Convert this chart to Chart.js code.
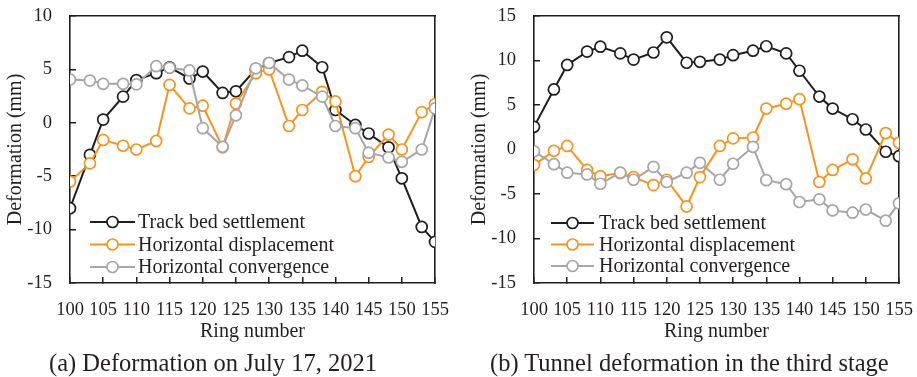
<!DOCTYPE html>
<html>
<head>
<meta charset="utf-8">
<script src="https://cdn.jsdelivr.net/npm/chart.js@4.4.0/dist/chart.umd.min.js"></script>
<style>
    html, body { margin: 0; padding: 0; background: #fff; }
    #page { position: relative; width: 917px; height: 377px; overflow: hidden; }
    .panel { position: absolute; top: 0; }
    .caption {
        position: absolute;
        font-family: 'Liberation Serif', 'Times New Roman', serif;
        font-size: 24.5px;
        line-height: 24px;
        color: #231f20;
        white-space: nowrap;
    }
</style>
</head>
<body>
<div id="page">
    <canvas id="chart-a" class="panel" style="left:0px" width="464" height="377"></canvas>
    <canvas id="chart-b" class="panel" style="left:464px" width="453" height="377"></canvas>
    <div class="caption" style="left:49px; top:351px">(a) Deformation on July 17, 2021</div>
    <div class="caption" style="left:490px; top:351px">(b) Tunnel deformation in the third stage</div>
</div>
<script>
// Ring numbers (x) shared by both panels
const rings = [100, 103, 105, 108, 110, 113, 115, 118, 120, 123, 125, 128, 130, 133, 135, 138, 140, 143, 145, 148, 150, 153, 155];
const seriesNames = ['Track bed settlement', 'Horizontal displacement', 'Horizontal convergence'];

// (a) July 17, 2021
const settlementA = [-8.0, -3.0, 0.3, 2.45, 4.0, 4.65, 5.2, 4.15, 4.8, 2.8, 2.95, 5.0, 5.6, 6.15, 6.75, 5.2, 1.2, -0.2, -1.0, -2.3, -5.2, -9.75, -11.15];
const displacementA = [-5.5, -3.8, -1.6, -2.15, -2.5, -1.7, 3.55, 1.35, 1.6, -2.3, 1.8, 4.65, 5.0, -0.3, 1.2, 2.9, 2.0, -5.0, -3.2, -1.1, -2.5, 1.0, 1.75];
const convergenceA = [4.05, 3.95, 3.65, 3.65, 3.6, 5.3, 5.15, 4.9, -0.5, -2.25, 0.7, 5.1, 5.6, 4.05, 3.5, 2.45, -0.3, -0.5, -2.8, -3.25, -3.65, -2.5, 1.35];

// (b) third stage
const settlementB = [2.55, 6.75, 9.5, 11.0, 11.55, 10.8, 10.1, 10.9, 12.6, 9.75, 9.85, 10.1, 10.6, 11.1, 11.6, 10.8, 8.85, 5.95, 4.6, 3.4, 2.25, -0.25, -0.75];
const displacementB = [-1.75, -0.15, 0.4, -2.3, -3.0, -2.65, -3.1, -4.0, -3.4, -6.4, -3.1, 0.4, 1.25, 1.35, 4.6, 5.15, 5.65, -3.65, -2.3, -1.1, -3.25, 1.85, 0.75];
const convergenceB = [-0.2, -1.65, -2.6, -2.8, -3.85, -2.6, -3.4, -1.95, -3.65, -2.6, -1.5, -3.4, -1.6, 0.3, -3.45, -3.9, -5.9, -5.6, -6.85, -7.1, -6.75, -8.0, -6.05];

const xTickStep = 5;
const yRangeA = [-15, 10];
const yRangeB = [-15, 15];

const colors = ['#1e1e1e', '#f7941d', '#a6a6a6'];
const TEXT = '#231f20';
const AXIS = '#1e1e1e';
const SERIF = "'Liberation Serif', 'Times New Roman', serif";

Chart.defaults.font.family = SERIF;
Chart.defaults.color = TEXT;

// legend sitting inside the plot, lower left
const insideLegend = {
    id: 'insideLegend',
    afterDraw(chart, args, opts) {
        const { ctx, chartArea: a } = chart;
        const datasets = chart.data.datasets;
        ctx.save();
        ctx.font = `20px ${SERIF}`;
        ctx.textBaseline = 'middle';
        ctx.textAlign = 'left';
        datasets.forEach((ds, i) => {
            const y = opts.top + i * opts.rowGap;
            const x0 = a.left + opts.lineStart;
            const x1 = a.left + opts.lineEnd;
            ctx.strokeStyle = ds.borderColor;
            ctx.lineWidth = ds.borderWidth;
            ctx.beginPath();
            ctx.moveTo(x0, y);
            ctx.lineTo(x1, y);
            ctx.stroke();
            ctx.beginPath();
            ctx.arc((x0 + x1) / 2, y, ds.pointRadius, 0, Math.PI * 2);
            ctx.fillStyle = '#fff';
            ctx.fill();
            ctx.lineWidth = ds.pointBorderWidth;
            ctx.stroke();
            ctx.fillStyle = TEXT;
            ctx.fillText(ds.label, a.left + opts.textStart, y + 1);
        });
        ctx.restore();
    }
};

// inward tick marks on the main axes (negative tick length)
const innerGrid = { display: true, drawOnChartArea: false, drawTicks: true, tickLength: -6, color: AXIS, lineWidth: 1.5 };
const frameBorder = { display: true, color: AXIS, width: 1.6 };

// fixed scale sizes, and no extra room for overhanging tick labels
function fixSize(w, h) {
    return (scale) => {
        if (w !== null) scale.width = w;
        if (h !== null) scale.height = h;
        scale.paddingTop = 0;
        scale.paddingBottom = 0;
        scale.paddingLeft = 0;
        scale.paddingRight = 0;
    };
}

function makeChart(id, values, yRange, rightPad, legendOpts) {
    const datasets = values.map((vals, i) => ({
        label: seriesNames[i],
        data: rings.map((r, j) => ({ x: r, y: vals[j] })),
        borderColor: colors[i],
        borderWidth: 2,
        pointRadius: 5.5,
        pointBorderWidth: 1.7,
        pointBackgroundColor: '#fff',
        pointBorderColor: colors[i],
        tension: 0,
        order: 3 - i,
    }));

    return new Chart(document.getElementById(id), {
        type: 'line',
        data: { datasets },
        options: {
            responsive: false,
            animation: false,
            events: [],
            devicePixelRatio: 1,
            layout: { padding: { left: 0, top: 16, right: rightPad, bottom: 32 } },
            plugins: {
                legend: { display: false },
                tooltip: { enabled: false },
                insideLegend: legendOpts,
            },
            scales: {
                x: {
                    type: 'linear',
                    position: 'bottom',
                    min: rings[0],
                    max: rings[rings.length - 1],
                    grid: innerGrid,
                    border: frameBorder,
                    ticks: {
                        stepSize: xTickStep,
                        autoSkip: false,
                        maxRotation: 0,
                        padding: 22,
                        color: TEXT,
                        font: { size: 18.5 },
                    },
                    title: {
                        display: true,
                        text: 'Ring number',
                        color: TEXT,
                        font: { size: 20 },
                        padding: { top: 0, bottom: 1 },
                    },
                    afterFit: fixSize(null, 62),
                },
                y: {
                    position: 'left',
                    min: yRange[0],
                    max: yRange[1],
                    grid: innerGrid,
                    border: frameBorder,
                    ticks: {
                        stepSize: 5,
                        padding: 24,
                        color: TEXT,
                        font: { size: 18.5 },
                    },
                    title: {
                        display: true,
                        text: 'Deformation (mm)',
                        color: TEXT,
                        font: { size: 20 },
                        padding: { top: 4, bottom: 0 },
                    },
                    afterFit: fixSize(70, null),
                },
                // top and right edges of the box
                xTop: {
                    axis: 'x',
                    type: 'linear',
                    position: 'top',
                    min: rings[0],
                    max: rings[rings.length - 1],
                    grid: { display: false, drawTicks: false },
                    border: frameBorder,
                    ticks: { display: false },
                    afterFit: fixSize(null, 0),
                },
                yRight: {
                    axis: 'y',
                    type: 'linear',
                    position: 'right',
                    min: yRange[0],
                    max: yRange[1],
                    grid: { display: false, drawTicks: false },
                    border: frameBorder,
                    ticks: { display: false },
                    afterFit: fixSize(0, null),
                },
            },
        },
        plugins: [insideLegend],
    });
}

makeChart('chart-a', [settlementA, displacementA, convergenceA], yRangeA, 29,
    { top: 222, rowGap: 22.5, lineStart: 20, lineEnd: 65, textStart: 68 });
makeChart('chart-b', [settlementB, displacementB, convergenceB], yRangeB, 18,
    { top: 223, rowGap: 21.5, lineStart: 17, lineEnd: 60, textStart: 65 });
</script>
</body>
</html>
